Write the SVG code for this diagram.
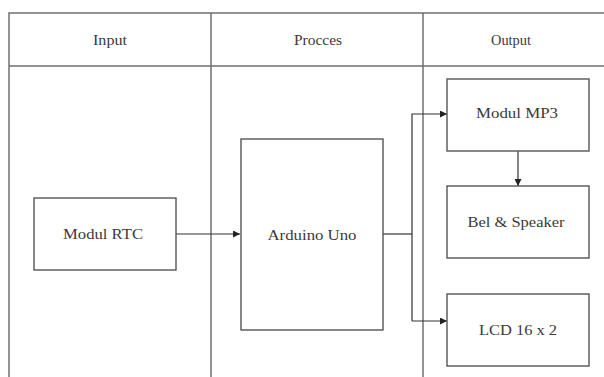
<svg xmlns="http://www.w3.org/2000/svg" width="604" height="377" viewBox="0 0 604 377">
<defs>
<style>
.tbl{stroke:#707070;stroke-width:1.5;fill:none}
.box{stroke:#555;stroke-width:1.4;fill:#fff}
.con{stroke:#333;stroke-width:1.2;fill:none}
.t{font-size:15px;fill:#3a3a3a;text-anchor:middle}
</style>
<marker id="ah" viewBox="0 0 10 10" refX="10" refY="5" markerWidth="7" markerHeight="7" orient="auto" markerUnits="userSpaceOnUse">
<path d="M0,0 L10,5 L0,10 z" fill="#222"/>
</marker>
</defs>
<rect width="604" height="377" fill="#fff"/>
<g id="table" font-family="Liberation Serif, Tinos, Noto Serif, DejaVu Serif, Times New Roman, serif">
<path class="tbl" d="M9,377 V13 H604 M9,66 H604 M211,13 V377 M423,13 V377"/>
<text class="t" x="110" y="45" textLength="34" lengthAdjust="spacingAndGlyphs">Input</text>
<text class="t" x="318" y="45" textLength="48" lengthAdjust="spacingAndGlyphs">Procces</text>
<text class="t" x="511" y="45" textLength="40" lengthAdjust="spacingAndGlyphs">Output</text>
</g>
<g id="connectors">
<path class="con" d="M176,234 H240" marker-end="url(#ah)"/>
<path class="con" d="M383,234 H412"/>
<path class="con" d="M412,321 V114 H447" marker-end="url(#ah)"/>
<path class="con" d="M412,321 H447" marker-end="url(#ah)"/>
<path class="con" d="M518,151 V186" marker-end="url(#ah)"/>
</g>
<g id="rtc" font-family="Liberation Serif, Tinos, Noto Serif, DejaVu Serif, Times New Roman, serif">
<rect class="box" x="34" y="198" width="142" height="72"/>
<text class="t" x="103" y="239" textLength="80" lengthAdjust="spacingAndGlyphs">Modul RTC</text>
</g>
<g id="arduino" font-family="Liberation Serif, Tinos, Noto Serif, DejaVu Serif, Times New Roman, serif">
<rect class="box" x="241" y="139" width="142" height="191"/>
<text class="t" x="312" y="240" textLength="89" lengthAdjust="spacingAndGlyphs">Arduino Uno</text>
</g>
<g id="mp3" font-family="Liberation Serif, Tinos, Noto Serif, DejaVu Serif, Times New Roman, serif">
<rect class="box" x="447" y="79" width="142" height="72"/>
<text class="t" x="517" y="118" textLength="82" lengthAdjust="spacingAndGlyphs">Modul MP3</text>
</g>
<g id="bel" font-family="Liberation Serif, Tinos, Noto Serif, DejaVu Serif, Times New Roman, serif">
<rect class="box" x="447" y="186" width="142" height="72"/>
<text class="t" x="516" y="227" textLength="97" lengthAdjust="spacingAndGlyphs">Bel &amp; Speaker</text>
</g>
<g id="lcd" font-family="Liberation Serif, Tinos, Noto Serif, DejaVu Serif, Times New Roman, serif">
<rect class="box" x="447" y="294" width="142" height="72"/>
<text class="t" x="518" y="335" textLength="78" lengthAdjust="spacingAndGlyphs">LCD 16 x 2</text>
</g>
</svg>
